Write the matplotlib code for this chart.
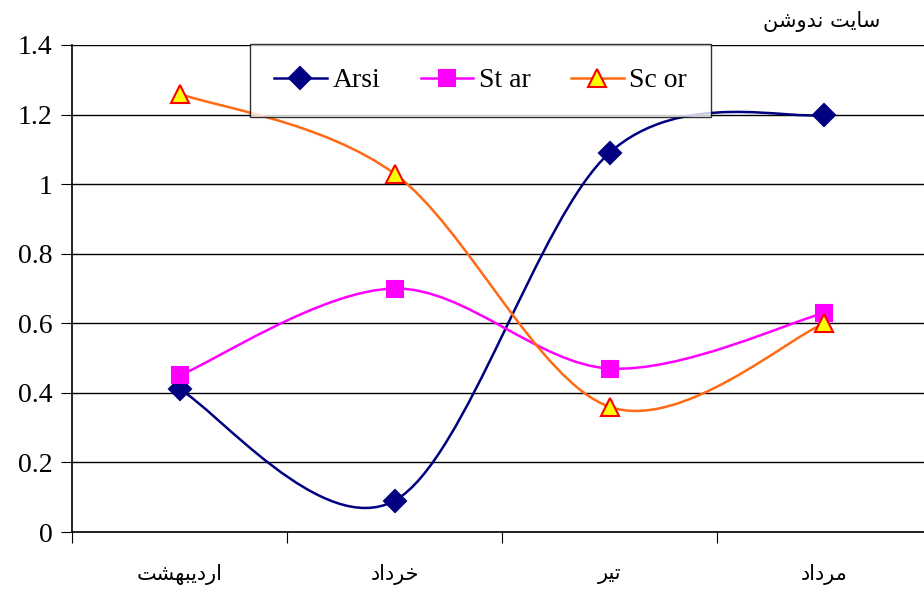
import numpy as np
import matplotlib
matplotlib.use('Agg')
import matplotlib.pyplot as plt
from matplotlib.path import Path
from matplotlib.patches import PathPatch
from matplotlib.lines import Line2D

# داده ها
months = ['\uFE96\uFEB8\uFEEC\uFE92\uFEF3\uFEA9\uFEAD\uFE8D',   # اردیبهشت
          '\uFEA9\uFE8D\uFEA9\uFEAE\uFEA7',                     # خرداد
          '\uFEAE\uFEF4\uFE97',                                 # تیر
          '\uFEA9\uFE8D\uFEA9\uFEAE\uFEE3']                     # مرداد
title = '\uFEE6\uFEB7\uFEED\uFEAA\uFEE7 \uFE96\uFEF3\uFE8E\uFEB3'  # سایت ندوشن
arsi = [0.41, 0.09, 1.09, 1.20]
star = [0.45, 0.70, 0.47, 0.63]
scor = [1.26, 1.03, 0.36, 0.60]
names = ['Arsi', 'St ar', 'Sc or']
yticks = [0, 0.2, 0.4, 0.6, 0.8, 1, 1.2, 1.4]


def smooth_path(xs, ys):
    # منحنی بزیه شبیه اکسل
    p = np.column_stack([xs, ys]).astype(float)
    n = len(p)
    verts = [p[0]]
    codes = [Path.MOVETO]
    for i in range(n - 1):
        a = p[i - 1] if i > 0 else p[i]
        d = p[i + 2] if i + 2 < n else p[i + 1]
        c1 = p[i] + (p[i + 1] - a) / 6
        c2 = p[i + 1] - (d - p[i]) / 6
        verts += [c1, c2, p[i + 1]]
        codes += [Path.CURVE4] * 3
    return Path(verts, codes)


plt.rcParams['font.family'] = ['Liberation Serif', 'DejaVu Sans']
fig = plt.figure(figsize=(9.24, 5.9), dpi=100)
ax = fig.add_axes([72 / 924, 1 - 532 / 590, 860 / 924, 487 / 590])

x = np.arange(len(months))
series = [(arsi, '#000080', 'D', '#000080', '#000080', 11),
          (star, '#FF00FF', 's', '#FF00FF', '#FF00FF', 12),
          (scor, '#FF6A13', '^', '#FFFF00', '#FF0000', 13)]

handles = []
for (vals, col, mk, fc, ec, ms), nm in zip(series, names):
    ax.add_patch(PathPatch(smooth_path(x, vals), fill=False, edgecolor=col,
                           linewidth=1.8, zorder=3))
    ax.plot(x, vals, linestyle='none', marker=mk, markersize=ms,
            markerfacecolor=fc, markeredgecolor=ec, markeredgewidth=1.5, zorder=4)
    handles.append(Line2D([], [], color=col, linewidth=1.8, marker=mk,
                          markersize=ms, markerfacecolor=fc, markeredgecolor=ec,
                          markeredgewidth=1.5))

ax.set_xlim(-0.5, 3.5)
ax.set_ylim(0, 1.4)
ax.set_yticks(yticks)
ax.set_yticklabels(['0', '0.2', '0.4', '0.6', '0.8', '1', '1.2', '1.4'], fontsize=20)
ax.yaxis.grid(True, color='black', linewidth=1)
ax.set_axisbelow(True)
ax.set_xticks(np.arange(-0.5, 3.6, 1))
ax.set_xticklabels([])
ax.set_xticks(x, minor=True)
ax.set_xticklabels(months, minor=True, fontsize=15, family='DejaVu Sans')
ax.tick_params(axis='x', which='minor', length=0, pad=23)
ax.tick_params(axis='x', which='major', length=8, direction='out', color='black')
ax.tick_params(axis='y', length=8, direction='out', color='black', pad=6)
for s in ['top', 'right']:
    ax.spines[s].set_visible(False)
ax.spines['left'].set_linewidth(1.2)
ax.spines['bottom'].set_linewidth(1.2)

leg = fig.legend(handles, names, loc='center', ncol=3,
                 bbox_to_anchor=(480.5 / 924, 1 - 80.5 / 590),
                 fontsize=20, frameon=True, fancybox=False, edgecolor='black',
                 handlelength=1.9, handletextpad=0.2, columnspacing=1.45,
                 borderpad=0.85, borderaxespad=0)
leg.get_frame().set_linewidth(1)

fig.text(880 / 924, 1 - 22 / 590, title, ha='right', va='center',
         fontsize=15, family='DejaVu Sans')

fig.savefig('out.png', dpi=100)
